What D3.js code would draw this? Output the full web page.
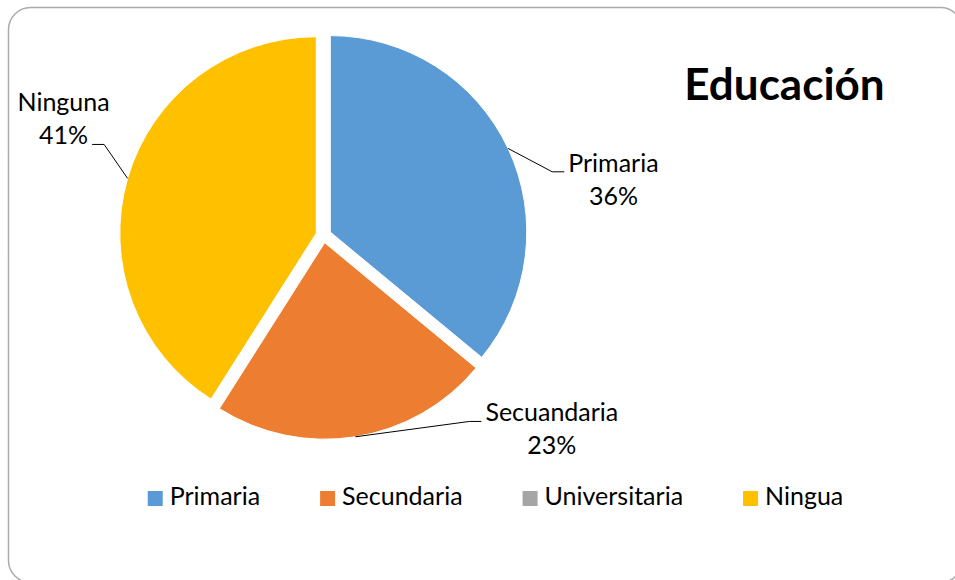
<!DOCTYPE html>
<html>
<head>
<meta charset="utf-8">
<script src="https://cdn.jsdelivr.net/npm/d3@7"></script>
<style>
  body { margin: 0; background: #fff; }
  text { font-family: Lato, sans-serif; fill: #000; }
</style>
</head>
<body>
<script>
// chart data
var categories = ['Primaria', 'Secundaria', 'Universitaria', 'Ninguna'];
var sliceLabels = ['Primaria', 'Secuandaria', 'Universitaria', 'Ninguna'];
var legendLabels = ['Primaria', 'Secundaria', 'Universitaria', 'Ningua'];
var values = [36, 23, 0, 41];
var colors = ['#5b9bd5', '#ed7d31', '#a5a5a5', '#ffc000'];
var title = 'Educación';

var width = 955,
    height = 580,
    cx = 323.5,
    cy = 235.3,
    radius = 196.5,
    explode = 7.5,
    labelRadius = 230,
    labelShift = [10, -30, 0, 6.5],   // degrees, where leader elbows sit
    lineHeight = 33,
    fontSize = '25px',
    legendGap = 60;

var svg = d3.select('body')
  .append('svg')
    .attr('width', width)
    .attr('height', height);

// rounded chart frame
svg.append('rect')
    .attr('x', 8.5)
    .attr('y', 7.5)
    .attr('width', 954)
    .attr('height', 575)
    .attr('rx', 22)
    .attr('fill', '#fff')
    .attr('stroke', '#ababab')
    .attr('stroke-width', 1.5);

var total = d3.sum(values);
var pct = d3.format('.0%');

var pie = d3.pie().sort(null).value(function(d){ return d; });
var arc = d3.arc().innerRadius(0).outerRadius(radius);
var arcs = pie(values);

function midAngle(d){ return (d.startAngle + d.endAngle) / 2; }
function polar(a, r){ return [Math.sin(a) * r, -Math.cos(a) * r]; }

var g = svg.append('g')
    .attr('transform', 'translate(' + cx + ',' + cy + ')');

var slices = g.selectAll('g.slice')
  .data(arcs)
  .enter()
  .append('g')
    .attr('class', 'slice')
    .attr('transform', function(d){
      var o = polar(midAngle(d), explode);
      return 'translate(' + o[0] + ',' + o[1] + ')';
    });

slices.append('path')
    .attr('d', arc)
    .attr('fill', function(d, i){ return colors[i]; })
    .attr('stroke', '#fff')
    .attr('stroke-width', 1);

// data labels with leader lines
slices.filter(function(d){ return d.value > 0; })
  .each(function(d){
    var i = d.index,
        sel = d3.select(this),
        a = midAngle(d),
        start = polar(a, radius),
        elbow = polar(a + labelShift[i] * Math.PI / 180, labelRadius),
        side = elbow[0] >= 0 ? 1 : -1,
        end = [elbow[0] + side * 12, elbow[1]];

    sel.append('polyline')
        .attr('points', [start, elbow, end].map(function(p){ return p.join(','); }).join(' '))
        .attr('fill', 'none')
        .attr('stroke', '#000')
        .attr('stroke-width', 1);

    var lines = [sliceLabels[i], pct(d.value / total)];
    var t = sel.append('text')
        .attr('text-anchor', 'middle')
        .style('font-size', fontSize);
    t.selectAll('tspan')
      .data(lines)
      .enter()
      .append('tspan')
        .text(function(s){ return s; });

    // right labels hang off the first line, left ones off the second
    var tsp = t.selectAll('tspan').nodes();
    var attachLine = side > 0 ? 0 : 1;
    var w = tsp[attachLine].getComputedTextLength();
    var mx = end[0] + side * (4 + w / 2);
    tsp.forEach(function(node, k){
      d3.select(node)
        .attr('x', mx)
        .attr('y', end[1] + (k - attachLine) * lineHeight);
    });
  });

// title
svg.append('text')
    .attr('x', 784.5)
    .attr('y', 100)
    .attr('text-anchor', 'middle')
    .style('font-size', '44px')
    .style('font-weight', 'bold')
    .text(title);

// legend
var legend = svg.append('g');
var items = legend.selectAll('g')
  .data(categories)
  .enter()
  .append('g');

items.append('rect')
    .attr('width', 15)
    .attr('height', 15)
    .attr('y', -14)
    .attr('fill', function(d, i){ return colors[i]; });

items.append('text')
    .attr('x', 22)
    .style('font-size', fontSize)
    .text(function(d, i){ return legendLabels[i]; });

var xPos = 0;
items.each(function(){
  d3.select(this).attr('transform', 'translate(' + xPos + ',0)');
  xPos += this.getBBox().width + legendGap;
});
var legendWidth = xPos - legendGap;
legend.attr('transform', 'translate(' + (495.5 - legendWidth / 2) + ',505)');
</script>
</body>
</html>
